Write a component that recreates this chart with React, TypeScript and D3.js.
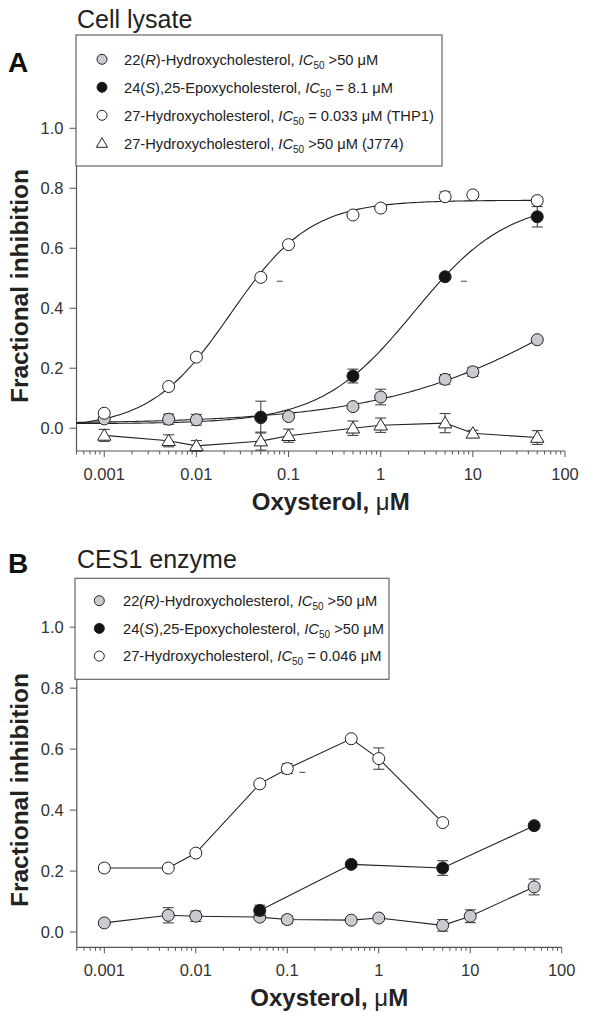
import React from 'react'
import * as d3 from 'd3'

// ---- data ----
const conc = [0.001, 0.005, 0.01, 0.05, 0.1, 0.5, 1, 5, 10, 50]
const concEpoxA = [0.05, 0.5, 5, 50]
const concOpenB = [0.001, 0.005, 0.01, 0.05, 0.1, 0.5, 1, 5]

// A: cell lysate
const a22R = [0.031, 0.030, 0.028, 0.035, 0.039, 0.072, 0.104, 0.163, 0.188, 0.295]
const a22RErr = [0, 0.017, 0.018, 0, 0, 0, 0.026, 0.016, 0.015, 0]
const a24S = [0.037, 0.174, 0.505, 0.705]
const a24SErr = [0.053, 0.023, 0, 0.034]
const a27THP1 = [0.050, 0.139, 0.237, 0.503, 0.612, 0.711, 0.734, 0.772, 0.778, 0.759]
const a27THP1Err = [0, 0, 0, 0, 0, 0, 0, 0.016, 0, 0.012]
const a27J774 = [-0.024, -0.042, -0.059, -0.043, -0.025, 0.0, 0.01, 0.017, -0.017, -0.031]
const a27J774Err = [0.02, 0.02, 0.018, 0.03, 0.022, 0.024, 0.024, 0.032, 0.01, 0.023]

// sigmoidal fits in A: [bottom, top, IC50, hill]
const fit22R = [0.015, 0.76, 176, 0.404]
const fit24S = [0.015, 0.76, 2.3, 0.86]
const fit27THP1 = [0.0, 0.76, 0.0233, 1.0]

// B: CES1 enzyme
const b22R = [0.030, 0.055, 0.052, 0.049, 0.041, 0.039, 0.046, 0.022, 0.052, 0.148]
const b22RErr = [0, 0.025, 0.017, 0, 0.013, 0, 0, 0.019, 0.021, 0.026]
const b24S = [0.071, 0.222, 0.210, 0.349]
const b24SErr = [0.017, 0, 0.024, 0]
const b27 = [0.210, 0.210, 0.259, 0.486, 0.536, 0.634, 0.569, 0.359]
const b27Err = [0.012, 0, 0, 0, 0.016, 0, 0.035, 0]

// stray short dashes printed in the figure [conc, value]
const strayA = [[0.08, 0.49], [8, 0.49]]
const strayB = [[0.146, 0.524]]

const yTicks = [0, 0.2, 0.4, 0.6, 0.8, 1.0]
const xMajor = [0.001, 0.01, 0.1, 1, 10, 100]
const xMajorLabels = ['0.001', '0.01', '0.1', '1', '10', '100']

const FONT = '"Liberation Sans", Arial, Helvetica, sans-serif'
const FILL = { gray: '#c8cbd0', black: '#141414', open: '#ffffff', tri: '#ffffff' }

function Marker({ kind, cx, cy, r }) {
  if (kind === 'tri') {
    const p = `M${cx},${cy - r * 1.1}L${cx + r * 1.12},${cy + r * 0.8}L${cx - r * 1.12},${cy + r * 0.8}Z`
    return <path d={p} fill="#fff" stroke="#222" strokeWidth={1} />
  }
  return <circle cx={cx} cy={cy} r={r} fill={FILL[kind]} stroke="#222" strokeWidth={1} />
}

function LegendText({ x, y, pre, it, post, tail }) {
  return (
    <text x={x} y={y} fontSize={14.7} fill="#222" fontFamily={FONT}>
      {pre}{it ? <tspan fontStyle="italic">{it}</tspan> : null}{post}, <tspan fontStyle="italic">IC</tspan>
      <tspan fontSize={10} dy={4}>50</tspan>
      <tspan dy={-4}> {tail}</tspan>
    </text>
  )
}

function Panel({ letter, letterY, title, titleY, series, fits, stray, legend, box, rowY, rowDy, markX, xr, yd, yr, ylabelY }) {
  const x = d3.scaleLog().domain([0.0005, 100]).range(xr)
  const y = d3.scaleLinear().domain(yd).range(yr)
  const x0 = xr[0], yb = yr[0]
  const minor = x.ticks().filter(t => Math.abs(Math.log10(t) - Math.round(Math.log10(t))) > 1e-6)
  const line = d3.line().x(d => x(d[0])).y(d => y(d[1]))
  const curvePts = (f, x1) => d3.range(0, 161).map(i => {
    const lx = Math.log10(0.0005) + (Math.log10(x1) - Math.log10(0.0005)) * i / 160
    const c = Math.pow(10, lx)
    return [c, f[0] + (f[1] - f[0]) / (1 + Math.pow(f[2] / c, f[3]))]
  })
  return (
    <g fontFamily={FONT}>
      <text x={8} y={letterY} fontSize={28} fontWeight="bold" fill="#111">{letter}</text>
      <text x={77} y={titleY} fontSize={25} fill="#222">{title}</text>

      {/* axes */}
      <line x1={x0} x2={x0} y1={yr[1]} y2={yb} stroke="#555" strokeWidth={1.2} />
      <line x1={x0} x2={xr[1]} y1={yb} y2={yb} stroke="#555" strokeWidth={1.2} />
      {yTicks.map(t => (
        <g key={t}>
          <line x1={x0 - 7} x2={x0} y1={y(t)} y2={y(t)} stroke="#555" />
          <text x={x0 - 13} y={y(t)} dy="0.36em" textAnchor="end" fontSize={16.5} fill="#333">{t.toFixed(1)}</text>
        </g>
      ))}
      {minor.map(t => <line key={t} x1={x(t)} x2={x(t)} y1={yb} y2={yb + 3.5} stroke="#555" />)}
      {xMajor.map((t, i) => (
        <g key={t}>
          <line x1={x(t)} x2={x(t)} y1={yb} y2={yb + 6} stroke="#555" />
          <text x={x(t)} y={yb + 29} textAnchor="middle" fontSize={16.5} fill="#333">{xMajorLabels[i]}</text>
        </g>
      ))}
      <text x={(xr[0] + xr[1]) / 2 + 10} y={yb + 59} textAnchor="middle" fontSize={24} fontWeight="bold" fill="#222">
        Oxysterol, <tspan fontWeight="normal">μ</tspan>M
      </text>
      <text transform={`translate(28,${ylabelY}) rotate(-90)`} textAnchor="middle" fontSize={24.5} fontWeight="bold" fill="#222">
        Fractional inhibition
      </text>

      {/* legend */}
      <rect x={box[0]} y={box[1]} width={box[2]} height={box[3]} fill="#fff" stroke="#666" strokeWidth={1.2} />
      {legend.map((l, i) => (
        <g key={i}>
          <Marker kind={l.kind} cx={box[0] + markX} cy={box[1] + rowY + i * rowDy} r={5} />
          <LegendText x={box[0] + 48} y={box[1] + rowY + i * rowDy + 5.3} pre={l.pre} it={l.it} post={l.post} tail={l.tail} />
        </g>
      ))}

      {/* fitted curves */}
      {fits.map((f, i) => (
        <path key={i} d={line(curvePts(f, 50))} fill="none" stroke="#222" strokeWidth={1.1} />
      ))}
      {/* joined series */}
      {series.filter(s => s.joined).map((s, i) => (
        <path key={i} d={line(s.x.map((c, j) => [c, s.y[j]]))} fill="none" stroke="#222" strokeWidth={1.1} />
      ))}
      {stray.map((p, i) => (
        <line key={i} x1={x(p[0]) - 3} x2={x(p[0]) + 3} y1={y(p[1])} y2={y(p[1])} stroke="#444" />
      ))}
      {/* error bars then markers */}
      {series.map((s, si) => (
        <g key={si}>
          {s.x.map((c, j) => s.err[j] > 0 ? (
            <g key={j} stroke="#444" strokeWidth={1.1}>
              <line x1={x(c)} x2={x(c)} y1={y(s.y[j] - s.err[j])} y2={y(s.y[j] + s.err[j])} />
              <line x1={x(c) - 5.5} x2={x(c) + 5.5} y1={y(s.y[j] - s.err[j])} y2={y(s.y[j] - s.err[j])} />
              <line x1={x(c) - 5.5} x2={x(c) + 5.5} y1={y(s.y[j] + s.err[j])} y2={y(s.y[j] + s.err[j])} />
            </g>
          ) : null)}
          {s.x.map((c, j) => <Marker key={j} kind={s.kind} cx={x(c)} cy={y(s.y[j])} r={6} />)}
        </g>
      ))}
    </g>
  )
}

export default function App() {
  const seriesA = [
    { x: conc, y: a22R, err: a22RErr, kind: 'gray', joined: false },
    { x: concEpoxA, y: a24S, err: a24SErr, kind: 'black', joined: false },
    { x: conc, y: a27THP1, err: a27THP1Err, kind: 'open', joined: false },
    { x: conc, y: a27J774, err: a27J774Err, kind: 'tri', joined: true },
  ]
  const seriesB = [
    { x: conc, y: b22R, err: b22RErr, kind: 'gray', joined: true },
    { x: concEpoxA, y: b24S, err: b24SErr, kind: 'black', joined: true },
    { x: concOpenB, y: b27, err: b27Err, kind: 'open', joined: true },
  ]
  const legendA = [
    { kind: 'gray', pre: '22(', it: 'R', post: ')-Hydroxycholesterol', tail: '>50 μM' },
    { kind: 'black', pre: '24(', it: 'S', post: '),25-Epoxycholesterol', tail: '= 8.1 μM' },
    { kind: 'open', pre: '27-Hydroxycholesterol', it: '', post: '', tail: '= 0.033 μM (THP1)' },
    { kind: 'tri', pre: '27-Hydroxycholesterol', it: '', post: '', tail: '>50 μM (J774)' },
  ]
  const legendB = [
    { kind: 'gray', pre: '22', it: '(R)', post: '-Hydroxycholesterol', tail: '>50 μM' },
    { kind: 'black', pre: '24(', it: 'S', post: '),25-Epoxycholesterol', tail: '>50 μM' },
    { kind: 'open', pre: '27-Hydroxycholesterol', it: '', post: '', tail: '= 0.046 μM' },
  ]
  return (
    <svg width={604} height={1021} style={{ position: 'absolute', left: 0, top: 0, background: '#fff' }}>
      <Panel letter="A" letterY={72} title="Cell lysate" titleY={28} series={seriesA} fits={[fit22R, fit24S, fit27THP1]}
        stray={strayA} legend={legendA} box={[76, 35, 366, 131]} rowY={24.3} rowDy={28} markX={26}
        xr={[76.5, 565]} yd={[-0.076, 1.1]} yr={[451, 98.3]} ylabelY={286} />
      <Panel letter="B" letterY={573} title="CES1 enzyme" titleY={568} series={seriesB} fits={[]}
        stray={strayB} legend={legendB} box={[75, 578.3, 314, 101]} rowY={22.4} rowDy={27.7} markX={24.3}
        xr={[76.8, 561.7]} yd={[-0.05, 1.1]} yr={[947.3, 596.7]} ylabelY={790} />
    </svg>
  )
}
